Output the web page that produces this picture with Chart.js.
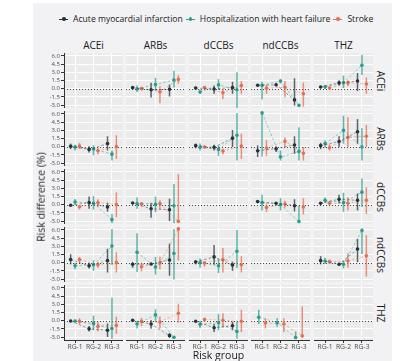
<!DOCTYPE html>
<html>
<head>
<meta charset="utf-8">
<script src="https://cdn.jsdelivr.net/npm/chart.js@4"></script>
<style>
  body { margin: 0; background: #fff; font-family: "Open Sans", sans-serif; }
  #fig { position: relative; width: 400px; height: 361px; overflow: hidden; }
  #bg { position: absolute; left: 33px; top: 3px; width: 359px; height: 358px; background: #f2f2f4; }
  canvas { position: absolute; }
  .t { position: absolute; white-space: nowrap; line-height: 1; color: #1a1a1a; }
  #legend { position: absolute; left: 59px; top: 13px; display: flex; align-items: center; font-size: 8.6px; color: #1a1a1a; white-space: nowrap; }
  .item { display: flex; align-items: center; margin-right: 3px; }
  .key { position: relative; display: inline-block; width: 9px; height: 1px; margin-right: 5px; }
  .key i { position: absolute; left: 3px; top: -1.5px; width: 3.5px; height: 3.5px; border-radius: 50%; }
</style>
</head>
<body>
<div id="fig"><div id="bg"></div><div id="legend"></div></div>
<script>
const drugs = ["ACEi", "ARBs", "dCCBs", "ndCCBs", "THZ"];
const groups = ["RG-1", "RG-2", "RG-3"];
const seriesNames = ["Acute myocardial infarction", "Hospitalization with heart failure", "Stroke"];
const yTicks = [-3, -1.5, 0, 1.5, 3, 4.5, 6];
const yTickLabels = ["-3.0", "-1.5", "0.0", "1.5", "3.0", "4.5", "6.0"];

// panel = [row drug, column drug]
const panels = [
  ["ACEi", "ARBs"], ["ACEi", "dCCBs"], ["ACEi", "ndCCBs"], ["ACEi", "THZ"],
  ["ARBs", "ACEi"], ["ARBs", "dCCBs"], ["ARBs", "ndCCBs"], ["ARBs", "THZ"],
  ["dCCBs", "ACEi"], ["dCCBs", "ARBs"], ["dCCBs", "ndCCBs"], ["dCCBs", "THZ"],
  ["ndCCBs", "ACEi"], ["ndCCBs", "ARBs"], ["ndCCBs", "dCCBs"], ["ndCCBs", "THZ"],
  ["THZ", "ACEi"], ["THZ", "ARBs"], ["THZ", "dCCBs"], ["THZ", "ndCCBs"]
];
const N = [null, null, null];

// acute myocardial infarction
const amiEst = [
  [0.19, -0.2, -0.12], [0.12, -0.06, 0.2], [0.62, 0.7, -2.06], [0.3, 1.06, 1.4],
  [0.06, -0.5, 0.56], [0.19, -0.12, 1.56], [-0.75, -0.37, 0.3], [0.19, 0.94, 2.75],
  [-0.12, 0.37, -0.44], [0.3, -0.75, -0.94], [0.56, 0.25, -0.19], [0.25, 1.0, 0.8],
  [0.56, -0.56, 0.37], [-0.3, -0.25, 0.5], [0.12, 1.06, -0.44], [0.37, -0.3, 2.5],
  [-0.06, -1.5, -1.75], [0.06, -0.62, -2.75], [-0.12, -1.3, -0.94], N
];
const amiLo = [
  [-0.1, -1.6, -1.44], [-0.1, -0.94, -0.94], [0.4, 0.5, -3.1], [0.1, 0.56, -0.44],
  [-0.44, -1.06, -0.7], [-0.3, -0.7, -0.06], [-1.9, -1.0, -1.3], [-0.44, -0.06, 0.56],
  [-0.3, -0.75, -1.3], [0.1, -2.4, -3.0], [0.35, 0.05, -1.25], [0.05, 0.2, -1.06],
  [-0.3, -1.06, -1.8], [-0.94, -0.45, -2.4], [-0.3, -0.37, -1.5], [-0.3, -0.6, 0.06],
  [-0.25, -2.0, -3.0], [-0.15, -1.5, -3.1], [-0.3, -2.06, -1.75], N
];
const amiHi = [
  [0.45, 1.1, 0.75], [0.35, 0.56, 1.25], [0.85, 0.9, 1.9], [0.5, 1.56, 2.9],
  [0.56, 0.06, 1.9], [0.56, 0.37, 3.06], [0.25, 0.06, 1.9], [0.7, 1.9, 5.06],
  [0.1, 1.5, 0.37], [0.5, 0.37, 1.1], [0.75, 0.45, 1.0], [0.45, 1.8, 2.06],
  [1.56, 0, 2.56], [0.12, -0.05, 3.5], [0.5, 3.25, 0.19], [1.2, 0, 4.4],
  [0.15, -1.0, -0.5], [0.25, 0.12, -2.25], [0.1, -0.62, -0.19], N
];

// hospitalization with heart failure
const hhfEst = [
  [-0.06, 0.75, 1.6], [-0.6, 0.7, -0.2], [0.62, 1.4, -3.06], [0.3, 1.1, 4.3],
  [-0.06, -0.44, -1.37], [-0.12, -0.5, 2.1], [6.2, -1.9, -0.87], [0.56, 3.0, -0.06],
  [0.5, 0.25, -2.75], [0.2, 0.06, -0.2], [0.37, 0, -3.1], [0.8, 0.37, 2.3],
  [-0.56, -0.37, 3.06], [1.9, -0.8, 1.7], [0, -0.56, 2.1], [0.3, -0.3, 5.9],
  [-0.06, -0.5, -1.44], [-0.62, 1.06, -3.06], [-0.7, -0.37, -2.0], [0.62, -0.37, -3.1]
];
const hhfLo = [
  [-0.6, -0.4, 0.2], [-0.94, -0.2, -3.6], [-2.0, 0.94, -3.3], [-0.06, 0.12, 2.5],
  [-0.7, -1.6, -2.56], [-0.7, -1.7, -2.56], [-1.8, -2.56, -2.56], [-0.2, 0.56, -2.56],
  [-0.06, -0.9, -3.4], [-0.75, -1.4, -3.4], [-1.06, -1.06, -3.4], [0.25, -1.3, -0.44],
  [-1.2, -1.5, -0.44], [-1.7, -2.2, -3.1], [-0.94, -1.9, -1.0], [-0.25, -1.06, 1.6],
  [-0.25, -1.75, -3.3], [-1.44, -0.19, -3.3], [-1.37, -1.75, -3.3], [-0.62, -1.1, -3.3]
];
const hhfHi = [
  [0.6, 2.0, 3.3], [-0.2, 1.75, 3.0], [1.25, 1.7, -2.8], [0.7, 2.4, 6.25],
  [0.37, 0.25, -0.7], [0.56, 0.25, 6.2], [6.3, -0.7, 3.56], [1.2, 5.7, 3.4],
  [1.06, 1.6, -1.7], [1.3, 1.5, 3.8], [1.8, 1.2, -0.25], [1.3, 2.2, 4.8],
  [0, 0.44, 6.2], [5.4, 1.06, 6.2], [0.75, 0.7, 6.0], [0.9, 0.3, 6.3],
  [0.15, 0.94, 4.2], [0, 2.1, -2.85], [0, 1.2, -0.19], [2.0, 0.44, -2.06]
];

// stroke
const strEst = [
  [0, -0.56, 1.7], [0.2, -0.75, 0.56], [0.06, 0.25, -0.94], [0.12, 1.06, 0.87],
  [0.12, -0.75, 0], [-0.06, -0.8, 0.12], [-0.25, 1.0, -1.2], [-0.19, 1.7, 1.9],
  [-0.37, 0.37, 0], [0.12, 0.2, -3.06], [-0.5, 0.12, -0.44], [0.25, 0.25, 0.8],
  [0.56, -0.37, 0], [-0.75, -0.06, 6.2], [-0.06, 0.56, -0.37], [0.2, 0.3, 1.25],
  [-0.12, -1.06, -0.87], [-0.12, -0.25, 1.37], [0.19, 0.06, -0.12], [-0.44, -0.62, -2.8]
];
const strLo = [
  [-0.3, -2.7, 0.9], [0, -1.9, -0.94], [-0.94, -1.56, -3.3], [-0.2, 0.44, -0.94],
  [-0.44, -1.44, -2.25], [-0.25, -1.44, -2.25], [-1.7, -0.06, -2.56], [-0.7, -0.06, -0.06],
  [-0.9, -0.44, -2.3], [-0.3, -0.9, -3.3], [-1.4, -0.56, -1.8], [0, -1.06, -1.7],
  [-0.06, -0.94, -1.8], [-1.6, -1.25, 0.4], [-0.75, -1.8, -1.8], [-0.2, -0.94, -2.56],
  [-0.6, -2.0, -2.4], [-1.0, -1.44, -0.37], [-0.25, -1.25, -2.1], [-1.44, -2.06, -3.1]
];
const strHi = [
  [0.3, 0.44, 2.5], [0.4, 0, 1.4], [0.7, 1.4, 1.1], [0.44, 1.56, 2.06],
  [0.7, -0.2, 2.1], [0.15, -0.37, 2.4], [1.2, 1.7, -0.06], [0.44, 5.4, 4.0],
  [-0.06, 1.0, 2.25], [0.5, 0.8, 5.6], [0.2, 0.7, 1.2], [0.6, 1.4, 3.2],
  [1.06, 0.12, 1.9], [0.06, 1.1, 6.5], [0.3, 2.7, 1.2], [0.56, 1.75, 5.06],
  [0.44, -0.25, 0.75], [0.5, 0.75, 3.1], [0.56, 1.37, 2.0], [0.44, 0.44, 2.6]
];

const series = [
  { name: seriesNames[0], est: amiEst, lo: amiLo, hi: amiHi, color: "35,52,62" },
  { name: seriesNames[1], est: hhfEst, lo: hhfLo, hi: hhfHi, color: "42,157,143" },
  { name: seriesNames[2], est: strEst, lo: strLo, hi: strHi, color: "231,111,81" }
];

const colLeft = [64, 126, 189, 251, 314];
const rowTop = [53, 111, 169, 227, 285];
const PW = 59, PH = 55;
const dodge = 0.72;
const fig = document.getElementById("fig");

const panelPlugin = {
  id: "panel",
  beforeDraw(chart) {
    const { ctx, chartArea: a } = chart;
    ctx.save();
    ctx.fillStyle = "#ebebeb";
    ctx.fillRect(a.left, a.top, a.width, a.height);
    ctx.restore();
  },
  beforeDatasetsDraw(chart) {
    const { ctx, chartArea: a, scales } = chart;
    const xs = scales.x, ys = scales.y;
    ctx.save();
    ctx.beginPath();
    ctx.rect(a.left, a.top, a.width, a.height);
    ctx.clip();
    // dotted zero line
    const y0 = Math.round(ys.getPixelForValue(0)) + 0.5;
    ctx.strokeStyle = "#333";
    ctx.lineWidth = 0.9;
    ctx.setLineDash([1, 2]);
    ctx.beginPath();
    ctx.moveTo(a.left, y0);
    ctx.lineTo(a.right, y0);
    ctx.stroke();
    ctx.setLineDash([]);
    // error bars
    chart.data.datasets.forEach(ds => {
      ctx.strokeStyle = "rgba(" + ds.rgb + ",0.75)";
      ctx.lineWidth = 1.5;
      ds.data.forEach((pt, i) => {
        const x = xs.getPixelForValue(pt.x);
        ctx.beginPath();
        ctx.moveTo(x, ys.getPixelForValue(ds.lo[i]));
        ctx.lineTo(x, ys.getPixelForValue(ds.hi[i]));
        ctx.stroke();
      });
    });
    ctx.restore();
  }
};

function makePanel(r, c) {
  const isLeft = c === 0, isBottom = r === 4;
  const padL = isLeft ? 30 : 0, padB = isBottom ? 16 : 0;
  const cv = document.createElement("canvas");
  cv.width = PW + padL;
  cv.height = PH + padB;
  cv.style.left = (colLeft[c] - padL) + "px";
  cv.style.top = rowTop[r] + "px";
  cv.style.width = cv.width + "px";
  cv.style.height = cv.height + "px";
  fig.appendChild(cv);

  const datasets = [];
  const p = panels.findIndex(q => q[0] === drugs[r] && q[1] === drugs[c]);
  if (p >= 0) {
    const present = series.filter(s => s.est[p].some(v => v !== null));
    const n = present.length;
    present.forEach((s, k) => {
      const off = (k - (n - 1) / 2) * dodge / n;
      const pts = [], lo = [], hi = [];
      s.est[p].forEach((v, i) => {
        if (v === null) return;
        pts.push({ x: i + 1 + off, y: v });
        lo.push(s.lo[p][i]);
        hi.push(s.hi[p][i]);
      });
      datasets.push({
        label: s.name,
        data: pts,
        lo: lo,
        hi: hi,
        rgb: s.color,
        showLine: true,
        borderColor: "rgba(" + s.color + ",0.6)",
        borderWidth: 0.8,
        borderDash: [2.5, 2],
        pointRadius: 1.8,
        pointBorderWidth: 0,
        pointBackgroundColor: "rgb(" + s.color + ")",
        pointBorderColor: "rgb(" + s.color + ")"
      });
    });
  }

  new Chart(cv, {
    type: "scatter",
    data: { datasets },
    options: {
      responsive: false,
      animation: false,
      events: [],
      layout: { padding: 0, autoPadding: false },
      plugins: { legend: { display: false }, tooltip: { enabled: false } },
      scales: {
        x: {
          type: "linear",
          min: 0.4,
          max: 3.6,
          afterBuildTicks: s => { s.ticks = groups.map((g, i) => ({ value: i + 1 })); },
          afterFit: s => { s.height = padB; s.paddingLeft = 0; s.paddingRight = 0; },
          ticks: {
            display: isBottom,
            callback: (v, i) => groups[i],
            font: { family: "Open Sans", size: 6.8 },
            color: "#4d4d4d",
            padding: 0,
            maxRotation: 0,
            autoSkip: false
          },
          grid: { color: "#ffffff", lineWidth: 1, drawTicks: isBottom, tickLength: 3, tickColor: "#333" },
          border: { display: isBottom, color: "#333", width: 1 }
        },
        y: {
          type: "linear",
          min: -3.55,
          max: 6.55,
          afterBuildTicks: s => { s.ticks = yTicks.map(v => ({ value: v })); },
          afterFit: s => { s.width = padL; s.paddingTop = 0; s.paddingBottom = 0; },
          ticks: {
            display: isLeft,
            callback: (v, i) => yTickLabels[i],
            font: { family: "Open Sans", size: 6 },
            color: "#4d4d4d",
            padding: 1,
            autoSkip: false
          },
          grid: { color: "#ffffff", lineWidth: 1, drawTicks: isLeft, tickLength: 3, tickColor: "#333" },
          border: { display: isLeft, color: "#333", width: 1 }
        }
      }
    },
    plugins: [panelPlugin]
  });
}

for (let r = 0; r < 5; r++) {
  for (let c = 0; c < 5; c++) makePanel(r, c);
}

function addText(txt, x, y, size, rot, color) {
  const d = document.createElement("div");
  d.className = "t";
  d.textContent = txt;
  d.style.fontSize = size + "px";
  d.style.left = x + "px";
  d.style.top = y + "px";
  if (color) d.style.color = color;
  d.style.transform = "translate(-50%,-50%) rotate(" + rot + "deg)";
  fig.appendChild(d);
}

drugs.forEach((d, i) => {
  addText(d, colLeft[i] + PW / 2, 45, 10, 0);
  addText(d, 381, rowTop[i] + PH / 2, 10, 90);
});
addText("Risk difference (%)", 41, 196.5, 10.5, -90);
addText("Risk group", 218.5, 355, 10.5, 0);

const legend = document.getElementById("legend");
series.forEach(s => {
  const item = document.createElement("div");
  item.className = "item";
  const key = document.createElement("span");
  key.className = "key";
  key.style.background = "rgb(" + s.color + ")";
  const dot = document.createElement("i");
  dot.style.background = "rgb(" + s.color + ")";
  key.appendChild(dot);
  const lab = document.createElement("span");
  lab.textContent = s.name;
  item.appendChild(key);
  item.appendChild(lab);
  legend.appendChild(item);
});
</script>
</body>
</html>
